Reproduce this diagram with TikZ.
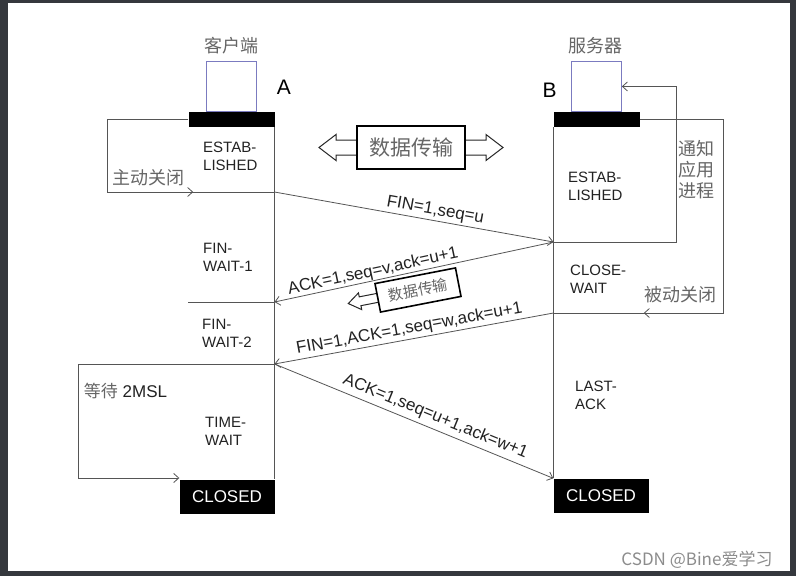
\documentclass[tikz,border=0pt]{standalone}
\usepackage{fontspec}
\setmainfont{Liberation Sans}
\newfontfamily\cjk{Noto Sans CJK SC}
\usetikzlibrary{arrows.meta, decorations.markings, calc, positioning}
\definecolor{tcpFrame}{HTML}{35383D}
\definecolor{tcpLine}{HTML}{555555}
\definecolor{tcpText}{HTML}{222222}
\definecolor{tcpGrey}{HTML}{666666}
\definecolor{tcpHost}{HTML}{7B7BC0}
\definecolor{tcpMark}{HTML}{8C8C8C}
\tikzset{
  conn/.style       = {tcpLine, line width=0.8pt},
  msg/.style        = {conn, ->},
  tcpbar/.style     = {fill=black, minimum width=86pt, minimum height=15pt, inner sep=0pt},
  hostbox/.style    = {draw=tcpHost, line width=0.7pt, minimum width=50pt,
                       minimum height=50pt, inner sep=0pt},
  closedbox/.style  = {fill=black, text=white, font=\fontsize{17}{20}\selectfont,
                       minimum width=95pt, minimum height=34pt, inner sep=0pt},
  statelbl/.style   = {anchor=west, align=left, inner sep=0pt, text=tcpText,
                       font=\fontsize{15}{18}\selectfont},
  cnlbl/.style      = {inner sep=0pt, text=tcpGrey, font=\cjk\fontsize{18}{21}\selectfont},
  hostlbl/.style    = {inner sep=0pt, text=black, font=\fontsize{21}{24}\selectfont},
  msglbl/.style     = {sloped, above, inner sep=2pt, text=tcpText,
                       font=\fontsize{17}{20}\selectfont},
  databox/.style    = {draw=black, line width=2pt, fill=white, text=tcpGrey,
                       font=\cjk\fontsize{21}{24}\selectfont,
                       minimum width=108pt, minimum height=43pt, inner sep=0pt},
  hollow/.style     = {draw=black!85, line width=1pt, fill=white},
  arrowhead/.style  = {decoration={markings,
                        mark=at position #1 with {\arrow{>}}},
                       postaction={decorate}},
}

\begin{document}
\begin{tikzpicture}[x=1pt, y=-1pt, >={Straight Barb[length=5pt, width=9pt]}]

% ---- frame ----------------------------------------------------------------
\fill[tcpFrame] (0,0) rectangle (796,576);
\fill[white] (8,3) rectangle (790,571);
\useasboundingbox (0,0) rectangle (796,576);

% ---- client A -------------------------------------------------------------
\node[tcpbar] (barA) at (231.5,119.5) {};
\node[hostbox, above=0pt of barA] (hostA) {};
\node[cnlbl] (nameA) at (231.5,46) {客户端};
\node[hostlbl] (lblA) at (284,87.5) {A};
\node[closedbox] (closedA) at (227,496.5) {CLOSED};
\draw[conn] (barA.south east) -- (closedA.north east);

% ---- server B -------------------------------------------------------------
\node[tcpbar] (barB) at (596.5,119.5) {};
\node[hostbox, above=0pt of barB] (hostB) {};
\node[cnlbl] (nameB) at (595,46) {服务器};
\node[hostlbl] (lblB) at (549.5,90) {B};
\node[closedbox] (closedB) at (601,495.5) {CLOSED};
\draw[conn] (barB.south west) -- (closedB.north west);

% ---- states ---------------------------------------------------------------
\node[statelbl] (estA)      at (203,156)   {ESTAB-\\LISHED};
\node[statelbl] (finwait1)  at (203,257)   {FIN-\\WAIT-1};
\node[statelbl] (finwait2)  at (202,333)   {FIN-\\WAIT-2};
\node[statelbl] (timewait)  at (205,431.5) {TIME-\\WAIT};
\node[statelbl] (estB)      at (568,186)   {ESTAB-\\LISHED};
\node[statelbl] (closewait) at (570,279)   {CLOSE-\\WAIT};
\node[statelbl] (lastack)   at (575,395)   {LAST-\\ACK};

% points on the two time lines
\coordinate (a1) at (274.5,192);
\coordinate (a2) at (274.5,302);
\coordinate (a3) at (274.5,364);
\coordinate (b1) at (553.5,242);
\coordinate (b3) at (553.5,313);
\coordinate (fw) at (188,302);
\draw[conn] (a2) -- (fw);

% ---- segments -------------------------------------------------------------
\draw[msg] (a1) -- node[msglbl, pos=0.57] {FIN=1,seq=u} (b1);
\draw[msg] (b1) -- node[msglbl, pos=0.64, inner sep=0.5pt] {ACK=1,seq=v,ack=u+1} (a2);
\draw[msg] (b3) -- node[msglbl, pos=0.51] {FIN=1,ACK=1,seq=w,ack=u+1} (a3);
\draw[msg] (a3) -- node[msglbl, pos=0.56, inner sep=4pt] {ACK=1,seq=u+1,ack=w+1}
  (closedB.north west);

% ---- side loops -----------------------------------------------------------
\coordinate (closeA) at (107,119.5);
\draw[conn, arrowhead=240pt] (barA.west) -- (closeA) |- (a1);
\node[cnlbl] (activeA) at (148,178) {主动关闭};

\coordinate (waitA) at (78,478);
\draw[conn, ->] (a3) -| (waitA) -- (waitA -| closedA.west);
\node[inner sep=0pt, font=\fontsize{17}{20}\selectfont] (waitlbl) at (125.5,391)
  {{\cjk\color{tcpGrey}等待} \textcolor{tcpText}{2MSL}};

\coordinate (notifyB) at (676,242);
\draw[conn, ->] (b1) -- (notifyB) |- (hostB.east);
\node[cnlbl, align=center] (notify) at (696,170) {通知\\应用\\进程};

\coordinate (closeB) at (723,119.5);
\draw[conn, arrowhead=356pt] (barB.east) -- (closeB) |- (b3);
\node[cnlbl] (passiveB) at (680.5,294.5) {被动关闭};

% ---- data transfer --------------------------------------------------------
\coordinate (dc) at (411,147.5);
\begin{scope}[shift={(dc)}]
  \draw[hollow] (-92,0) -- (-75,-13) -- (-75,-7.5) -- (75,-7.5) -- (75,-13)
    -- (92,0) -- (75,13) -- (75,7.5) -- (-75,7.5) -- (-75,13) -- cycle;
\end{scope}
\node[databox] (data) at (dc) {数据传输};

\coordinate (dc2) at (418,290);
\begin{scope}[shift={(dc2)}, rotate=11]
  \draw[hollow] (-71,0) -- (-59,-8.5) -- (-59,-4.5) -- (-38,-4.5) -- (-38,4.5)
    -- (-59,4.5) -- (-59,8.5) -- cycle;
\end{scope}
\node[databox, rotate=11, minimum width=82pt, minimum height=29pt, line width=1.6pt,
      font=\cjk\fontsize{15}{18}\selectfont] (data2) at (dc2) {数据传输};

% ---- credit ---------------------------------------------------------------
\node[inner sep=0pt, text=tcpMark, font=\cjk\fontsize{17}{20}\selectfont] (credit)
  at (697,560) {CSDN @Bine爱学习};

\end{tikzpicture}
\end{document}
